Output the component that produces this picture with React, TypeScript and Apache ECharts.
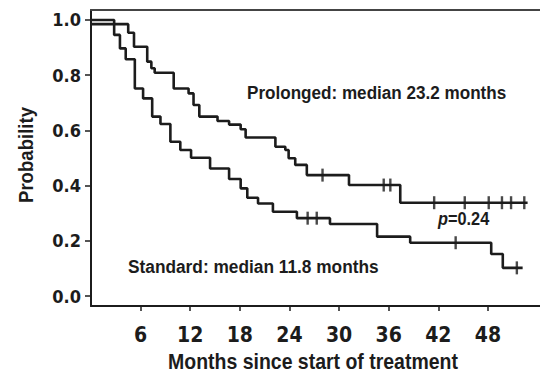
import React, { useEffect, useRef } from "react";
import * as echarts from "echarts";

// Kaplan-Meier steps: [month, survival probability] (drop happens at the month)
const prolongedSteps: [number, number][] = [
  [0, 0.985], [4.5, 0.954], [5.2, 0.903], [6.8, 0.849], [7.3, 0.825], [7.7, 0.809],
  [10.0, 0.752], [11.8, 0.734], [12.4, 0.692], [13.1, 0.65], [15.3, 0.634], [16.7, 0.621],
  [18.1, 0.604], [18.7, 0.574], [22.3, 0.541], [23.5, 0.529], [23.9, 0.499], [24.7, 0.475],
  [26.1, 0.438], [31.2, 0.402], [37.4, 0.338], [52.8, 0.338],
];
const prolongedCensored: [number, number][] = [
  [28.0, 0.438], [35.4, 0.402], [36.2, 0.402], [41.5, 0.338], [45.2, 0.338],
  [48.1, 0.338], [49.7, 0.338], [50.8, 0.338], [52.4, 0.338],
];
const standardSteps: [number, number][] = [
  [0, 1.0], [2.8, 0.946], [3.5, 0.897], [4.2, 0.858], [5.3, 0.752], [6.3, 0.716],
  [7.4, 0.65], [8.4, 0.623], [9.6, 0.559], [10.8, 0.529], [12.1, 0.501], [14.4, 0.462],
  [16.7, 0.424], [18.1, 0.39], [18.9, 0.356], [20.2, 0.335], [22.0, 0.305], [24.9, 0.282],
  [28.9, 0.261], [34.6, 0.215], [38.6, 0.193], [48.4, 0.152], [49.8, 0.102], [52.2, 0.102],
];
const standardCensored: [number, number][] = [
  [26.2, 0.282], [27.3, 0.282], [44.1, 0.193], [51.5, 0.102],
];
const xTicks = [6, 12, 18, 24, 30, 36, 42, 48];
const yTicks = [0, 0.2, 0.4, 0.6, 0.8, 1.0];

const SANS = '"Liberation Sans", Arial, sans-serif';
const COND = '"DejaVu Sans Condensed", "DejaVu Sans", sans-serif';
const INK = "#1c1c1c";

export default function App() {
  const ref = useRef<HTMLDivElement>(null);
  useEffect(() => {
    if (!ref.current) return;
    const chart = echarts.init(ref.current, undefined, { renderer: "svg" });
    const xMin = 0, xMax = 54.3;
    const yMin = -0.0362, yMax = 1.0362;
    const lineSeries = (name: string, data: [number, number][]) => ({
      name, type: "line", step: "end", data, showSymbol: false, symbol: "none",
      lineStyle: { color: INK, width: 2.6 }, silent: true, z: 3,
    });
    const censorSeries = (name: string, data: [number, number][]) => ({
      name, type: "scatter", data, symbol: "rect", symbolSize: [2.4, 13],
      itemStyle: { color: INK }, silent: true, z: 4,
    });
    chart.setOption({
      animation: false,
      backgroundColor: "#ffffff",
      grid: { left: 91, right: 0, top: 10, bottom: 68 },
      xAxis: [
        {
          type: "value", min: xMin, max: xMax, position: "bottom",
          axisLine: { show: true, onZero: false, lineStyle: { color: INK, width: 2 } },
          axisTick: { show: true, customValues: xTicks, length: 5, lineStyle: { color: INK, width: 1.5 } },
          axisLabel: {
            show: true, customValues: xTicks, margin: 18, color: INK,
            fontFamily: COND, fontWeight: "bold", fontSize: 21,
          },
          splitLine: { show: false },
        },
        {
          type: "value", min: xMin, max: xMax, position: "top",
          axisLine: { show: true, onZero: false, lineStyle: { color: "#444", width: 2 } },
          axisTick: { show: false }, axisLabel: { show: false }, splitLine: { show: false },
        },
      ],
      yAxis: {
        type: "value", min: yMin, max: yMax,
        axisLine: { show: true, onZero: false, lineStyle: { color: INK, width: 2 } },
        axisTick: { show: true, customValues: yTicks, length: 6, lineStyle: { color: INK, width: 1.5 } },
        axisLabel: {
          show: true, customValues: yTicks, margin: 10, color: INK,
          fontFamily: COND, fontWeight: "bold", fontSize: 18,
          formatter: (v: number) => v.toFixed(1),
        },
        splitLine: { show: false },
      },
      series: [
        lineSeries("Prolonged", prolongedSteps),
        lineSeries("Standard", standardSteps),
        censorSeries("Prolonged censored", prolongedCensored),
        censorSeries("Standard censored", standardCensored),
      ],
      graphic: [
        {
          type: "text", x: 26, y: 155, rotation: Math.PI / 2, scaleX: 0.93,
          style: {
            text: "Probability", align: "center", verticalAlign: "middle",
            font: `bold 20px ${SANS}`, fill: INK,
          },
        },
        {
          type: "text", x: 313, y: 361, scaleX: 0.885,
          style: {
            text: "Months since start of treatment", align: "center", verticalAlign: "middle",
            font: `bold 22px ${SANS}`, fill: INK,
          },
        },
        {
          type: "text", x: 247, y: 93, scaleX: 0.9,
          style: {
            text: "Prolonged: median 23.2 months", align: "left", verticalAlign: "middle",
            font: `bold 19px ${SANS}`, fill: INK,
          },
        },
        {
          type: "text", x: 128, y: 267, scaleX: 0.91,
          style: {
            text: "Standard: median 11.8 months", align: "left", verticalAlign: "middle",
            font: `bold 19px ${SANS}`, fill: INK,
          },
        },
        {
          type: "text", x: 438, y: 219, scaleX: 0.86,
          style: {
            text: "{i|p}=0.24", align: "left", verticalAlign: "middle",
            font: `bold 19px ${SANS}`, fill: INK,
            rich: {
              i: { fontStyle: "italic", fontWeight: "bold", fontSize: 19, fontFamily: SANS, fill: INK, color: INK },
            },
          },
        },
      ],
    });
    return () => chart.dispose();
  }, []);
  return <div ref={ref} style={{ width: 540, height: 374, position: "absolute", left: 0, top: 0 }} />;
}
